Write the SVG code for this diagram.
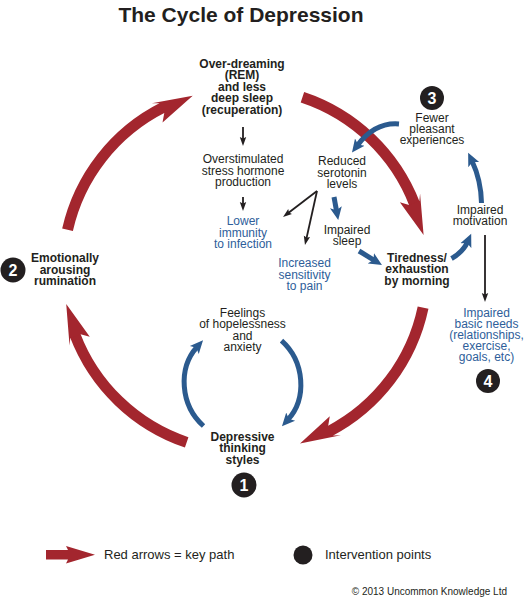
<svg xmlns="http://www.w3.org/2000/svg" width="526" height="600" viewBox="0 0 526 600">
<style>
text{font-family:"Liberation Sans",Arial,sans-serif;font-size:12px;fill:#231f20;text-anchor:middle}
.b{font-weight:bold}
.bt{fill:#2e5e9a}
.title{font-size:21px;font-weight:bold}
.num{fill:#fff;font-weight:bold;font-size:16px}
.leg{font-size:13px;text-anchor:start}
.copy{font-size:10px;text-anchor:end}
.dot{fill:#231f20}
.red{fill:none;stroke:#a3262e;stroke-width:11}
.redh{fill:#a3262e}
.blue{fill:none;stroke:#2b5a8e;stroke-width:5}
.blk{fill:none;stroke:#231f20;stroke-width:1.8}
</style>
<defs>
<marker id="bh" markerUnits="userSpaceOnUse" markerWidth="14" markerHeight="14" viewBox="0 -7 14 14" refX="4" refY="0" orient="auto">
<path d="M0,-6 L13,0 L0,6 L3,0 Z" fill="#2b5a8e"/>
</marker>
<marker id="kh" markerUnits="userSpaceOnUse" markerWidth="10" markerHeight="8" viewBox="0 -4 10 8" refX="2" refY="0" orient="auto">
<path d="M0,-3.2 L9,0 L0,3.2 L1.5,0 Z" fill="#231f20"/>
</marker>
<g id="redArrow">
<path class="red" d="M334.6,111.6 A182,182 0 0,1 424.2,238.4"/>
<polygon class="redh" points="427,270 431.5,228.7 429.4,235.8 418.6,237.8 410,233.4"/>
</g>
</defs>
<rect width="526" height="600" fill="#fff"/>
<text class="title" x="241" y="22">The Cycle of Depression</text>

<g id="connectors">
<use href="#redArrow" transform="rotate(253.3 245 270)"/>
<use href="#redArrow" transform="rotate(348.9 245 270)"/>
<use href="#redArrow" transform="rotate(72.4 245 270)"/>
<use href="#redArrow" transform="rotate(169.2 245 270)"/>
<path class="blue" d="M399,124 Q375,122 357.4,145.4" marker-end="url(#bh)"/>
<path class="blue" d="M481.5,203 Q481,180 472,161" marker-end="url(#bh)"/>
<path class="blue" d="M334,197 L336.6,211.2" marker-end="url(#bh)"/>
<path class="blue" d="M359,251 L374.3,260.4" marker-end="url(#bh)"/>
<path class="blue" d="M451.5,258.5 Q463,252 467.5,242" marker-end="url(#bh)"/>
<path class="blue" d="M203.5,426 C180,405 178,368 197,347" marker-end="url(#bh)"/>
<path class="blue" d="M281.5,340.6 C305,361.6 307,398.6 288,419.6" marker-end="url(#bh)"/>
<path class="blk" d="M243,127 L243,139" marker-end="url(#kh)"/>
<path class="blk" d="M243,197 L243,204" marker-end="url(#kh)"/>
<path class="blk" d="M317,191 L288.6,212.75" marker-end="url(#kh)"/>
<path class="blk" d="M317,191 L306.5,238.2" marker-end="url(#kh)"/>
<path class="blk" d="M485,235 L485,295" marker-end="url(#kh)"/>
</g>

<g id="n-overdreaming">
<text class="b" x="242" y="67.5">Over-dreaming</text>
<text class="b" x="242" y="79">(REM)</text>
<text class="b" x="242" y="90.5">and less</text>
<text class="b" x="242" y="102">deep sleep</text>
<text class="b" x="242" y="113.5">(recuperation)</text>
</g>
<g id="n-stress">
<text x="243" y="163">Overstimulated</text>
<text x="243" y="174.5">stress hormone</text>
<text x="243" y="186">production</text>
</g>
<g id="n-immunity">
<text class="bt" x="243" y="225">Lower</text>
<text class="bt" x="243" y="236.5">immunity</text>
<text class="bt" x="243" y="248">to infection</text>
</g>
<g id="n-serotonin">
<text x="342" y="165">Reduced</text>
<text x="342" y="176.5">serotonin</text>
<text x="342" y="188">levels</text>
</g>
<g id="n-sleep">
<text x="347" y="233.5">Impaired</text>
<text x="347" y="245">sleep</text>
</g>
<g id="n-pain">
<text class="bt" x="304.5" y="267">Increased</text>
<text class="bt" x="304.5" y="278.5">sensitivity</text>
<text class="bt" x="304.5" y="290">to pain</text>
</g>
<g id="n-tiredness">
<text class="b" x="417" y="261.5">Tiredness/</text>
<text class="b" x="417" y="273">exhaustion</text>
<text class="b" x="417" y="284.5">by morning</text>
</g>
<g id="n-motivation">
<text x="480" y="213.5">Impaired</text>
<text x="480" y="225">motivation</text>
</g>
<g id="n-fewer">
<circle class="dot" cx="432" cy="98" r="12"/>
<text class="num" x="432" y="103.8">3</text>
<text x="432" y="121.7">Fewer</text>
<text x="432" y="133">pleasant</text>
<text x="432" y="144.3">experiences</text>
</g>
<g id="n-basic">
<text class="bt" x="486.5" y="317.3">Impaired</text>
<text class="bt" x="486.5" y="328.3">basic needs</text>
<text class="bt" x="486.5" y="339.3">(relationships,</text>
<text class="bt" x="486.5" y="350.3">exercise,</text>
<text class="bt" x="486.5" y="361.3">goals, etc)</text>
<circle class="dot" cx="488" cy="381" r="12"/>
<text class="num" x="488" y="386.8">4</text>
</g>
<g id="n-feelings">
<text x="242.5" y="316.5">Feelings</text>
<text x="242.5" y="328">of hopelessness</text>
<text x="242.5" y="339.5">and</text>
<text x="242.5" y="351">anxiety</text>
</g>
<g id="n-depressive">
<text class="b" x="242.5" y="440.5">Depressive</text>
<text class="b" x="242.5" y="452">thinking</text>
<text class="b" x="242.5" y="463.5">styles</text>
<circle class="dot" cx="244" cy="485" r="12.5"/>
<text class="num" x="244" y="490.8">1</text>
</g>
<g id="n-emotional">
<circle class="dot" cx="13" cy="270" r="12.5"/>
<text class="num" x="13" y="275.8">2</text>
<text class="b" x="65" y="262">Emotionally</text>
<text class="b" x="65" y="273.5">arousing</text>
<text class="b" x="65" y="285">rumination</text>
</g>
<g id="legend">
<polygon class="redh" points="46,550 68,550 66,546 95,554.7 66,563.5 68,559.5 46,559.5"/>
<text class="leg" x="104" y="559.3">Red arrows = key path</text>
<circle class="dot" cx="303" cy="555" r="9.5"/>
<text class="leg" x="325" y="559.3">Intervention points</text>
<text class="copy" x="507" y="595">© 2013 Uncommon Knowledge Ltd</text>
</g>
</svg>
